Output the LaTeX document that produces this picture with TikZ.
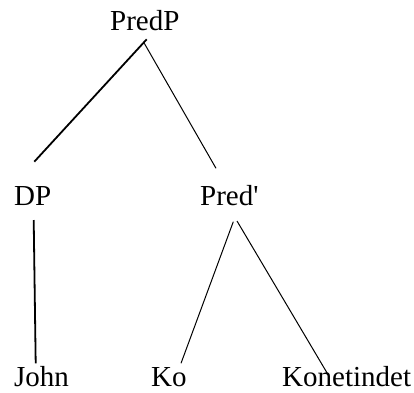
\documentclass[tikz,border=0pt]{standalone}
\usepackage{fontspec}
\setmainfont{Liberation Serif}[Ligatures=TeXOff]
\usetikzlibrary{positioning, calc}

\begin{document}
\begin{tikzpicture}[x=1pt, y=-1pt, every node/.style={inner sep=0pt, anchor=base west, font=\fontsize{29}{35}\selectfont}]

    \useasboundingbox (0,0) rectangle (414,392);

    % Edge styles
    \tikzset{thickedge/.style={line width=1.8pt}, thinedge/.style={line width=1pt}}

    % Labels of the tree
    \node (PredP) at (110,30) {PredP};
    \node (DP) at (14,205) {DP};
    \node (Pred) at (200,205) {Pred'};
    \node (John) at (14,386) {John};
    \node (Ko) at (151,386) {Ko};
    \node (Konetindet) at (282,386) {Konetindet};

    % Branches
    \draw[thickedge] ($(PredP.base west)+(36.7,9.3)$) -- ($(DP.base west)+(20.3,-43.3)$);
    \draw[thinedge] ($(PredP.base west)+(34.3,13.3)$) -- ($(Pred.base west)+(16,-36.7)$);
    \draw[thickedge] ($(DP.base west)+(19.7,15)$) -- ($(John.base west)+(21.7,-22.7)$);
    \draw[thinedge] ($(Pred.base west)+(33.3,16.7)$) -- ($(Ko.base west)+(30,-22.7)$);
    \draw[thinedge] ($(Pred.base west)+(37,16)$) -- ($(Konetindet.base west)+(46.3,-11)$);

\end{tikzpicture}
\end{document}
